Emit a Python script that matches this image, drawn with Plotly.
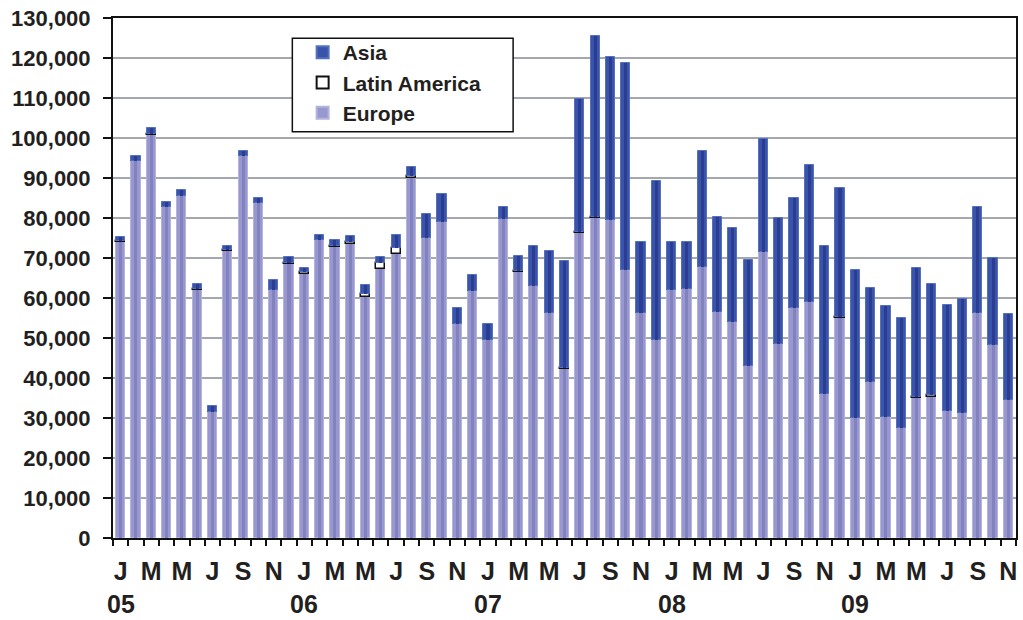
import plotly.graph_objects as go

years = ["05", "06", "07", "08", "09"]
month_letters = ["J", "F", "M", "A", "M", "J", "J", "A", "S", "O", "N", "D"]

# values in thousands, Jan 2005 .. Nov 2009
total = [75.2, 95.4, 102.5, 84.1, 87.1, 63.4, 32.9, 73.0, 96.7, 85.1, 64.5, 70.2,
         67.4, 75.8, 74.4, 75.5, 63.3, 70.2, 75.7, 92.7, 80.9, 86.1, 57.6, 65.8,
         53.5, 82.7, 70.4, 73.1, 71.8, 69.2, 109.7, 125.6, 120.2, 118.7, 74.1, 89.2,
         73.9, 74.1, 96.7, 80.3, 77.4, 69.6, 99.7, 80.0, 85.1, 93.3, 73.0, 87.4,
         67.0, 62.6, 58.0, 55.0, 67.6, 63.6, 58.3, 59.8, 82.7, 70.0, 56.0]
europe = [74.0, 94.3, 100.7, 82.7, 85.6, 61.9, 31.5, 71.7, 95.4, 83.7, 62.1, 68.6,
          66.1, 74.4, 72.8, 73.4, 60.3, 67.2, 71.0, 90.1, 75.1, 78.9, 53.6, 61.8,
          49.4, 79.8, 66.6, 62.9, 56.2, 42.3, 76.2, 80.1, 79.4, 66.9, 56.2, 49.4,
          62.1, 62.3, 67.7, 56.6, 53.9, 43.1, 71.4, 48.4, 57.6, 58.9, 35.9, 55.0,
          29.9, 38.9, 30.2, 27.4, 34.9, 35.3, 31.7, 31.3, 56.3, 48.3, 34.4]
latin = [0.3, 0.0, 0.4, 0.0, 0.0, 0.3, 0.0, 0.2, 0.2, 0.0, 0.0, 0.2,
         0.3, 0.0, 0.2, 0.6, 0.6, 1.5, 1.4, 0.3, 0.0, 0.0, 0.0, 0.0,
         0.2, 0.0, 0.2, 0.0, 0.0, 0.3, 0.3, 0.2, 0.0, 0.0, 0.0, 0.2,
         0.0, 0.0, 0.0, 0.0, 0.0, 0.0, 0.0, 0.2, 0.0, 0.0, 0.0, 0.2,
         0.0, 0.0, 0.0, 0.0, 0.4, 0.4, 0.0, 0.0, 0.0, 0.0, 0.0]

n = len(total)
months = []
ticktext = []
for i in range(n):
    y = years[i // 12]
    m = i % 12
    months.append(f"{m + 1:02d}/{y}")
    ticktext.append(month_letters[m] if m % 2 == 0 else "")

eu = [v * 1000 for v in europe]
la = [v * 1000 for v in latin]
asia = [(t - e - l) * 1000 for t, e, l in zip(total, europe, latin)]
base_la = eu
base_as = [e + l for e, l in zip(eu, la)]

W = 0.6
SW = 0.2
fig = go.Figure()
fig.add_trace(go.Bar(x=months, y=eu, base=[0] * n, width=W, name="Europe",
                     marker=dict(color="#9898cf", line=dict(color="#b3b3df", width=1))))
fig.add_trace(go.Bar(x=months, y=eu, base=[0] * n, width=SW, showlegend=False,
                     marker=dict(color="#8282c1", line=dict(width=0)), hoverinfo="skip"))
fig.add_trace(go.Bar(x=months, y=la, base=base_la, width=W, name="Latin America",
                     marker=dict(color="white", line=dict(color="#111111", width=1.5))))
fig.add_trace(go.Bar(x=months, y=asia, base=base_as, width=W, name="Asia",
                     marker=dict(color="#3a54a9", line=dict(color="#5570bf", width=1))))
fig.add_trace(go.Bar(x=months, y=asia, base=base_as, width=SW, showlegend=False,
                     marker=dict(color="#2b3d93", line=dict(width=0)), hoverinfo="skip"))

font_main = dict(family="Liberation Sans, Arial, sans-serif", size=22, color="#231f20", weight="bold")
font_narrow = dict(family="Liberation Sans Narrow, Arial Narrow, sans-serif", size=25, color="#231f20", weight="bold")

for k, y in enumerate(years):
    fig.add_annotation(x=months[k * 12], y=-0.127, xref="x", yref="paper",
                       text=y, showarrow=False, font=font_narrow,
                       xanchor="center", yanchor="middle")

# legend frame
fig.add_shape(type="rect", xref="paper", yref="paper",
              x0=0.1986, x1=0.4431, y0=0.7813, y1=0.961,
              fillcolor="white", line=dict(color="#111111", width=1.5), layer="above")

fig.update_layout(
    width=1023, height=620,
    margin=dict(l=113, r=5, t=18, b=82),
    paper_bgcolor="white", plot_bgcolor="white",
    barmode="overlay", bargap=0,
    showlegend=True,
    legend=dict(x=0.21, y=0.973, xanchor="left", yanchor="top",
                traceorder="reversed", bgcolor="rgba(0,0,0,0)", borderwidth=0,
                font=dict(family="Liberation Sans, Arial, sans-serif", size=21, color="#231f20", weight="bold"),
                itemsizing="constant", tracegroupgap=0),
    xaxis=dict(type="category", categoryorder="array", categoryarray=months,
               range=[-0.5, n - 0.5], tickmode="array", tickvals=months, ticktext=ticktext,
               tickson="boundaries", ticks="outside", ticklen=6, tickwidth=1.5, tickcolor="#111111",
               showline=True, linewidth=2, linecolor="#111111", mirror=True,
               showgrid=False, tickfont=font_narrow, ticklabelstandoff=10, tickangle=0),
    yaxis=dict(range=[0, 130000], dtick=10000, tickformat=",", ticks="outside",
               ticklen=8, tickwidth=2, tickcolor="#111111",
               showline=True, linewidth=2, linecolor="#111111", mirror=True,
               showgrid=True, gridcolor="#a4a8ac", gridwidth=2,
               tickfont=font_main, zeroline=False, ticklabelstandoff=8),
)

fig.write_html("out.html", config={"displayModeBar": False},
               post_script="document.body.style.margin='0px';document.body.style.overflow='hidden';")
